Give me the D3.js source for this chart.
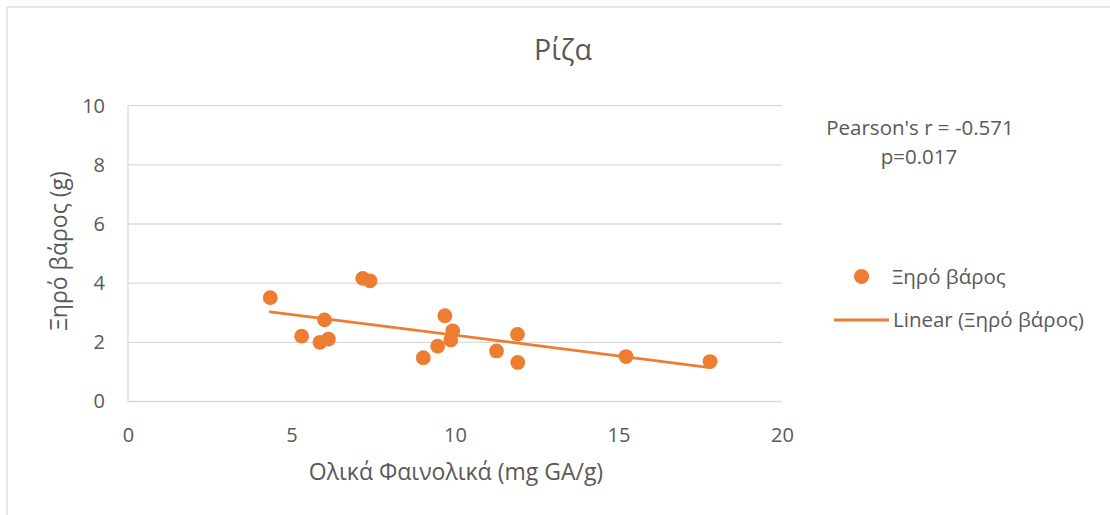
<!DOCTYPE html>
<html><head><meta charset="utf-8">
<script src="https://cdn.jsdelivr.net/npm/d3@7"></script>
<style>body{margin:0;background:#fff;} text{font-family:"Open Sans","Noto Sans",sans-serif;fill:#595959;}</style>
</head><body>
<svg id="c" width="1110" height="515"></svg>
<script>
const xValues = [4.35, 6.01, 5.31, 5.87, 6.13, 7.18, 7.40, 9.69, 9.03, 9.47, 9.93, 9.87, 11.27, 11.91, 11.92, 15.23, 17.80];
const yValues = [3.51, 2.76, 2.21, 2.00, 2.11, 4.16, 4.08, 2.90, 1.48, 1.87, 2.39, 2.08, 1.71, 2.27, 1.32, 1.52, 1.35];
const xTicks = [0, 5, 10, 15, 20];
const yTicks = [0, 2, 4, 6, 8, 10];
const title = "Ρίζα";
const xTitle = "Ολικά Φαινολικά (mg GA/g)";
const yTitle = "Ξηρό βάρος (g)";
const seriesName = "Ξηρό βάρος";
const trendName = "Linear (Ξηρό βάρος)";
const statLines = ["Pearson's r = -0.571", "p=0.017"];

const color = "#ED7D31";
const svg = d3.select("#c");
svg.append("rect").attr("x",7).attr("y",7).attr("width",1110).attr("height",515)
  .attr("fill","none").attr("stroke","#d9d9d9").attr("stroke-width",1.3);

const x = d3.scaleLinear().domain([0,20]).range([128,782]);
const y = d3.scaleLinear().domain([0,10]).range([401.5,105.7]);

// gridlines
svg.append("g").selectAll("line").data(yTicks).join("line")
  .attr("x1",x(0)).attr("x2",x(20)).attr("y1",d=>y(d)).attr("y2",d=>y(d))
  .attr("stroke","#d9d9d9").attr("stroke-width",1.3);
// y axis line
svg.append("line").attr("x1",x(0)).attr("x2",x(0)).attr("y1",y(0)).attr("y2",y(10))
  .attr("stroke","#d9d9d9").attr("stroke-width",1.3);

// tick labels
const yAxis = svg.append("g").attr("transform",`translate(${x(0)},0)`)
  .call(d3.axisLeft(y).tickValues(yTicks).tickSize(0).tickPadding(23));
yAxis.select(".domain").remove();
yAxis.selectAll("text").attr("font-size",20).style("font-family","'Open Sans'").attr("fill","#595959");
const xAxis = svg.append("g").attr("transform",`translate(0,${y(0)})`)
  .call(d3.axisBottom(x).tickValues(xTicks).tickSize(0).tickPadding(26));
xAxis.select(".domain").remove();
xAxis.selectAll("text").attr("font-size",20).style("font-family","'Open Sans'").attr("fill","#595959");

// titles
svg.append("text").attr("x",563).attr("y",60).attr("text-anchor","middle").attr("font-size",28.5).text(title);
svg.append("text").attr("x",456).attr("y",480).attr("text-anchor","middle").attr("font-size",23).text(xTitle);
svg.append("text").attr("transform","translate(67,251) rotate(-90)").attr("text-anchor","middle").attr("font-size",23).text(yTitle);

// trendline (least squares)
const n = xValues.length;
const mx = d3.mean(xValues), my = d3.mean(yValues);
let sxy=0, sxx=0;
for(let i=0;i<n;i++){ sxy+=(xValues[i]-mx)*(yValues[i]-my); sxx+=(xValues[i]-mx)**2; }
const slope = sxy/sxx, icpt = my - slope*mx;
const [xmin,xmax] = d3.extent(xValues);
svg.append("line").attr("x1",x(xmin)).attr("y1",y(icpt+slope*xmin))
  .attr("x2",x(xmax)).attr("y2",y(icpt+slope*xmax))
  .attr("stroke",color).attr("stroke-width",2.8).attr("stroke-linecap","round");

// points
svg.append("g").selectAll("circle").data(xValues.map((d,i)=>[d,yValues[i]])).join("circle")
  .attr("cx",d=>x(d[0])).attr("cy",d=>y(d[1])).attr("r",7.4).attr("fill",color);

// stats text
svg.append("text").attr("x",920).attr("y",135).attr("text-anchor","middle").attr("font-size",20.5).text(statLines[0]);
svg.append("text").attr("x",919).attr("y",164).attr("text-anchor","middle").attr("font-size",20.5).text(statLines[1]);

// legend
svg.append("circle").attr("cx",861.5).attr("cy",276.5).attr("r",7.6).attr("fill",color);
svg.append("text").attr("x",892).attr("y",284).attr("font-size",20.5).text(seriesName);
svg.append("line").attr("x1",834).attr("x2",889).attr("y1",320).attr("y2",320).attr("stroke",color).attr("stroke-width",2.8);
svg.append("text").attr("x",893).attr("y",327).attr("font-size",20.5).text(trendName);
</script>
</body></html>
